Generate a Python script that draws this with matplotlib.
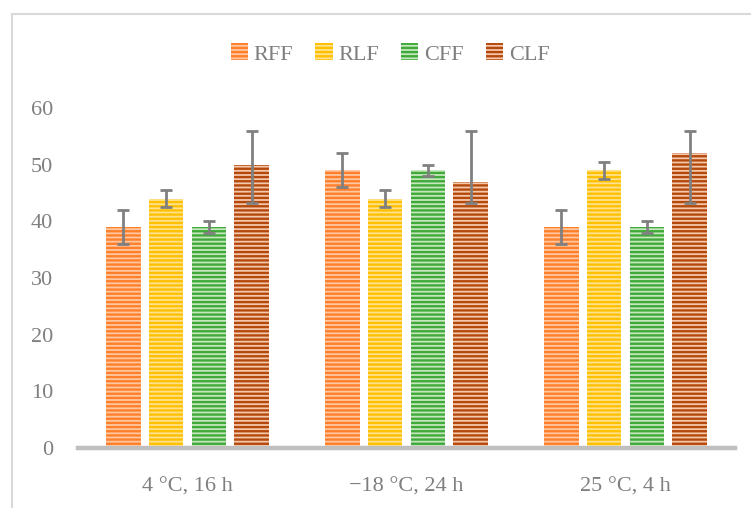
import matplotlib

matplotlib.use("Agg")
import matplotlib.pyplot as plt  # noqa: E402
import numpy as np  # noqa: E402
from matplotlib.lines import Line2D  # noqa: E402

# 数据
groups = ["4 °C, 16 h", "\u221218 °C, 24 h", "25 °C, 4 h"]
series = ["RFF", "RLF", "CFF", "CLF"]
rff = [39, 49, 39]
rlf = [44, 44, 49]
cff = [39, 49, 39]
clf = [50, 47, 52]
rff_err = [3, 3, 3]
rlf_err = [1.5, 1.5, 1.5]
cff_err = [1, 1, 1]
clf_err_low = [6.7, 3.7, 8.7]
clf_err_high = [6, 9, 4]
yticks = [0, 10, 20, 30, 40, 50, 60]

# (条纹色, 底色)
COLORS = [
    ("#FF7F2A", "#FFC8A2"),
    ("#FFC000", "#FFE28F"),
    ("#3FAA3A", "#C6E6BE"),
    ("#B5490B", "#F4C8AC"),
]
TEXT = "#7F7F7F"

plt.rcParams["font.family"] = ["Liberation Serif", "DejaVu Serif"]
plt.rcParams["hatch.linewidth"] = 1.7

W, H = 751, 508
dpi = 100.0
fig = plt.figure(figsize=(W / dpi, H / dpi), dpi=dpi)
ax = fig.add_axes((78 / W, (H - 448) / H, 657 / W, 340 / H))

values = [rff, rlf, cff, clf]
errs = [
    [rff_err, rff_err],
    [rlf_err, rlf_err],
    [cff_err, cff_err],
    [clf_err_low, clf_err_high],
]
x = np.arange(len(groups))
width = 0.158
step = 0.195
for i, (name, vals, err) in enumerate(zip(series, values, errs)):
    pos = x + (i - 1.5) * step
    dark, light = COLORS[i]
    ax.bar(pos, vals, width, facecolor=light, edgecolor=dark, linewidth=0,
           hatch="----", label=name, zorder=2)
    ax.errorbar(pos, vals, yerr=np.array(err), fmt="none", ecolor="#808080",
                elinewidth=2.0, capsize=4.3, capthick=2.0, zorder=3)

ax.set_xlim(-0.5, len(groups) - 0.5)
ax.set_ylim(0, 60)
ax.set_yticks(yticks)
ax.set_xticks(x)
ax.set_xticklabels(groups)
ax.tick_params(axis="both", length=0, labelsize=16, colors=TEXT)
ax.tick_params(axis="y", pad=18)
ax.tick_params(axis="x", pad=21)
for side in ("top", "right", "left"):
    ax.spines[side].set_visible(False)
ax.spines["bottom"].set_color("#BFBFBF")
ax.spines["bottom"].set_linewidth(3.2)
ax.spines["bottom"].set_zorder(4)

# 图例中心约在 (390, 54) 像素处
ax.legend(loc="center", bbox_to_anchor=((390 - 78) / 657, 1 + (108 - 54) / 340),
          ncol=4, frameon=False, fontsize=16, labelcolor=TEXT,
          handlelength=0.78, handleheight=0.78, handletextpad=0.25,
          columnspacing=1.0, borderaxespad=0)

# 图表外框（只露出左边和上边）
border = "#D9D9D9"
fig.add_artist(Line2D([12 / W, 12 / W], [0, (H - 14) / H], color=border, lw=1.5))
fig.add_artist(Line2D([12 / W, 1], [(H - 14) / H, (H - 14) / H], color=border, lw=1.5))

fig.savefig("out.png", dpi=dpi, facecolor="white")
